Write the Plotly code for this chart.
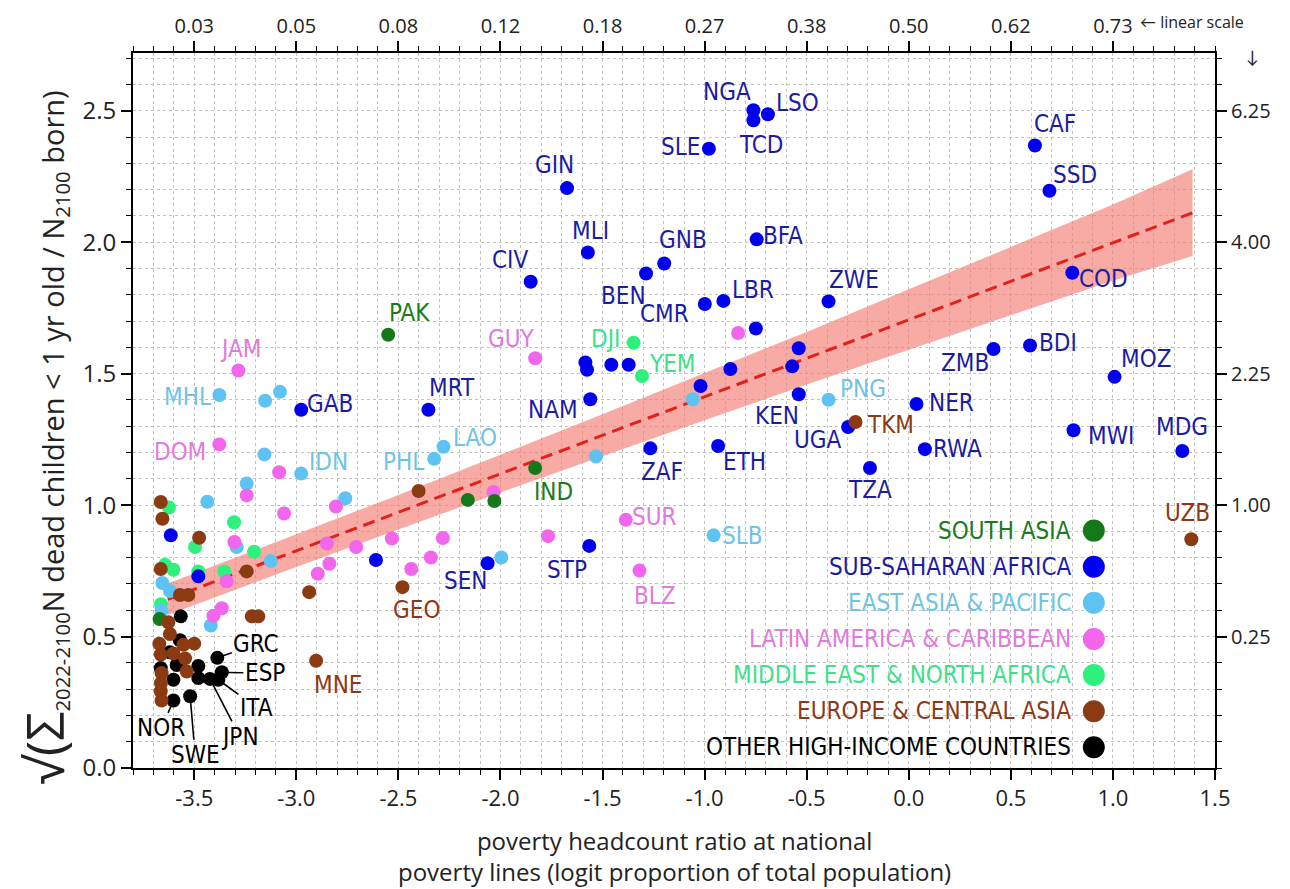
import plotly.graph_objects as go

# ---------------- data ----------------
# x: logit poverty headcount ratio, y: sqrt(sum dead infants / N born)
sa_x = [-2.55, -1.83, -2.16, -2.03, -3.67]
sa_y = [1.648, 1.141, 1.020, 1.016, 0.567]
sa_lab = ["PAK", "IND", "", "", ""]

ssa_x = [-0.761, -0.761, -0.69, -0.979, 0.618, 0.689, -1.674, -1.572, -1.852, -1.287,
         -1.198, -0.745, -0.999, -0.908, -0.393, 0.801, -0.749, 0.594, 0.415, 1.008,
         0.038, 0.807, -0.297, 0.079, 1.34, -0.19, -0.539, -0.539, -0.571, -0.874,
         -1.02, -0.934, -1.266, -1.56, -1.584, -1.576, -1.457, -1.372, -2.353, -2.976,
         -2.063, -1.565, -2.61, -3.615, -3.48]
ssa_y = [2.502, 2.464, 2.487, 2.356, 2.368, 2.196, 2.206, 1.961, 1.850, 1.881,
         1.919, 2.011, 1.765, 1.777, 1.775, 1.884, 1.672, 1.607, 1.594, 1.488,
         1.385, 1.285, 1.297, 1.213, 1.206, 1.141, 1.422, 1.597, 1.528, 1.518,
         1.453, 1.225, 1.216, 1.403, 1.543, 1.515, 1.534, 1.534, 1.363, 1.363,
         0.779, 0.845, 0.791, 0.885, 0.729]
ssa_lab = ["NGA", "TCD", "LSO", "SLE", "CAF", "SSD", "GIN", "MLI", "CIV", "BEN",
           "GNB", "BFA", "CMR", "LBR", "ZWE", "COD", "", "BDI", "ZMB", "MOZ",
           "NER", "MWI", "UGA", "RWA", "MDG", "TZA", "KEN", "", "", "",
           "", "ETH", "ZAF", "NAM", "", "", "", "", "MRT", "GAB",
           "SEN", "STP", "", "", ""]

eap_x = [-3.377, -3.153, -3.08, -3.156, -2.976, -3.243, -3.436, -2.76, -2.279, -2.325,
         -3.292, -3.125, -1.996, -1.532, -0.956, -1.058, -0.393, -3.656, -3.619, -3.66,
         -3.419]
eap_y = [1.419, 1.397, 1.431, 1.193, 1.120, 1.082, 1.013, 1.026, 1.222, 1.176,
         0.841, 0.787, 0.801, 1.185, 0.885, 1.403, 1.401, 0.704, 0.673, 0.598,
         0.542]
eap_lab = ["MHL", "", "", "", "IDN", "", "", "", "LAO", "PHL",
           "", "", "", "", "SLB", "", "PNG", "", "", "",
           ""]

lac_x = [-3.284, -3.377, -3.084, -3.243, -3.06, -2.806, -3.303, -2.85, -2.707, -2.532,
         -2.282, -2.341, -2.437, -2.838, -2.895, -3.341, -3.365, -3.406, -1.83, -2.034,
         -1.386, -1.767, -1.319, -0.836]
lac_y = [1.512, 1.231, 1.125, 1.037, 0.968, 0.995, 0.860, 0.854, 0.841, 0.873,
         0.875, 0.801, 0.757, 0.777, 0.739, 0.710, 0.608, 0.579, 1.559, 1.050,
         0.944, 0.882, 0.751, 1.655]
lac_lab = ["JAM", "DOM", "", "", "", "", "", "", "", "",
           "", "", "", "", "", "", "", "", "GUY", "",
           "SUR", "", "BLZ", ""]

mena_x = [-1.348, -1.307, -3.624, -3.305, -3.496, -3.207, -3.643, -3.602, -3.48, -3.353,
          -3.663]
mena_y = [1.618, 1.491, 0.991, 0.935, 0.841, 0.823, 0.773, 0.754, 0.748, 0.748,
          0.623]
mena_lab = ["DJI", "YEM", "", "", "", "", "", "", "", "",
            ""]

eca_x = [-3.664, -3.656, -3.476, -2.401, -3.664, -3.243, -3.57, -3.529, -2.48, -2.937,
         -3.218, -3.186, -3.627, -3.619, -3.671, -3.553, -3.5, -3.664, -3.602, -3.545,
         -3.537, -3.66, -3.663, -3.664, -3.66, -2.903, -0.261, 1.384]
eca_y = [1.012, 0.948, 0.876, 1.054, 0.757, 0.748, 0.658, 0.658, 0.688, 0.669,
         0.577, 0.577, 0.554, 0.510, 0.473, 0.469, 0.473, 0.432, 0.436, 0.417,
         0.367, 0.361, 0.323, 0.292, 0.257, 0.408, 1.316, 0.870]
eca_lab = ["", "", "", "", "", "", "", "", "GEO", "",
           "", "", "", "", "", "", "", "", "", "",
           "", "", "", "", "", "MNE", "TKM", "UZB"]

hi_x = [-3.566, -3.57, -3.387, -3.664, -3.586, -3.48, -3.365, -3.48, -3.423, -3.382,
        -3.602, -3.602, -3.52, -3.62]
hi_y = [0.577, 0.486, 0.419, 0.380, 0.392, 0.388, 0.364, 0.342, 0.339, 0.336,
        0.336, 0.257, 0.273, 0.440]
hi_lab = ["", "", "GRC", "", "", "", "ESP", "", "JPN", "ITA",
          "", "NOR", "SWE", ""]

# regression fit and its confidence band
fit_x = [-3.63, 1.39]
fit_y = [0.642, 2.112]
band_x = [-3.63, -3.0, -2.5, -2.0, -1.5, -1.0, -0.5, 0.0, 0.5, 1.0, 1.39]
band_lo = [0.582, 0.765, 0.907, 1.048, 1.186, 1.323, 1.459, 1.591, 1.722, 1.854, 1.948]
band_hi = [0.702, 0.889, 1.039, 1.192, 1.346, 1.503, 1.659, 1.821, 1.982, 2.144, 2.278]

# axis ticks
x_ticks = [-3.5, -3.0, -2.5, -2.0, -1.5, -1.0, -0.5, 0.0, 0.5, 1.0, 1.5]
x_ticktext = ["-3.5", "-3.0", "-2.5", "-2.0", "-1.5", "-1.0", "-0.5", "0.0", "0.5", "1.0", "1.5"]
top_ticks = [-3.5, -3.0, -2.5, -2.0, -1.5, -1.0, -0.5, 0.0, 0.5, 1.0]
top_ticktext = ["0.03", "0.05", "0.08", "0.12", "0.18", "0.27", "0.38", "0.50", "0.62", "0.73"]
y_ticks = [0.0, 0.5, 1.0, 1.5, 2.0, 2.5]
y_ticktext = ["0.0", "0.5", "1.0", "1.5", "2.0", "2.5"]
r_ticks = [0.5, 1.0, 1.5, 2.0, 2.5]
r_ticktext = ["0.25", "1.00", "2.25", "4.00", "6.25"]

legend_names = ["SOUTH ASIA", "SUB-SAHARAN AFRICA", "EAST ASIA & PACIFIC",
                "LATIN AMERICA & CARIBBEAN", "MIDDLE EAST & NORTH AFRICA",
                "EUROPE & CENTRAL ASIA", "OTHER HIGH-INCOME COUNTRIES"]

# ---------------- styles ----------------
LABEL_FONT = "Liberation Sans Narrow, Arial Narrow, DejaVu Sans Condensed, sans-serif"
AXIS_FONT = "Open Sans, Lato, sans-serif"
GRID = "#c2c2c2"
LABEL_SIZE = 24

regions = {
    "SA":   dict(x=sa_x, y=sa_y, lab=sa_lab, mk="#15791a", tx="#1b7a1b"),
    "SSA":  dict(x=ssa_x, y=ssa_y, lab=ssa_lab, mk="#0000ee", tx="#1c1ca2"),
    "EAP":  dict(x=eap_x, y=eap_y, lab=eap_lab, mk="#5ec3f3", tx="#6fc3e3"),
    "LAC":  dict(x=lac_x, y=lac_y, lab=lac_lab, mk="#f266ee", tx="#e07ade"),
    "MENA": dict(x=mena_x, y=mena_y, lab=mena_lab, mk="#2ef07c", tx="#3ee08a"),
    "ECA":  dict(x=eca_x, y=eca_y, lab=eca_lab, mk="#8b3a12", tx="#8b3a17"),
    "HI":   dict(x=hi_x, y=hi_y, lab=hi_lab, mk="#000000", tx="#000000"),
}
legend_order = ["SA", "SSA", "EAP", "LAC", "MENA", "ECA", "HI"]
draw_order = ["MENA", "EAP", "LAC", "SA", "SSA", "HI", "ECA"]

# label offsets in pixels (right, up) relative to the dot
label_shift = {
    "NGA": (-26, 18), "TCD": (8, -25), "LSO": (30, 11), "SLE": (-28, 2), "CAF": (20, 22),
    "SSD": (26, 16), "BFA": (26, 3), "GNB": (19, 24), "ZWE": (25, 21), "LBR": (30, 11),
    "CMR": (-40, -10), "COD": (31, -6), "BDI": (28, 3), "ZMB": (-29, -14), "MOZ": (31, 18),
    "NER": (35, 1), "MWI": (37, -6), "MDG": (0, 24), "KEN": (-22, -22), "UGA": (-30, -13),
    "TKM": (35, -3), "PNG": (34, 11), "RWA": (33, 0), "TZA": (0, -22), "ETH": (26, -16),
    "ZAF": (12, -24), "NAM": (-37, -11), "MRT": (24, 22), "LAO": (31, 9), "PHL": (-31, -3),
    "GUY": (-24, 19), "DJI": (-28, 4), "YEM": (30, 12), "IND": (18, -24), "SUR": (29, 3),
    "SLB": (29, -1), "STP": (-22, -24), "BLZ": (15, -25), "SEN": (-22, -18), "PAK": (21, 22),
    "JAM": (2, 22), "MHL": (-32, -2), "GAB": (29, 6), "DOM": (-39, -8), "IDN": (27, 12),
    "GEO": (14, -23), "MNE": (22, -24), "UZB": (-4, 26), "CIV": (-21, 22), "GIN": (-13, 23),
    "MLI": (3, 22), "BEN": (-23, -22),
}
# labels joined to their dot by a leader line: (ax, ay) pixel offsets of the text
leader_shift = {
    "GRC": (39, -14), "ESP": (43, 1), "ITA": (38, 28),
    "JPN": (30, 58), "NOR": (-12, 28), "SWE": (5, 59),
}

fig = go.Figure()

# confidence band
fig.add_trace(go.Scatter(
    x=band_x + band_x[::-1], y=band_hi + band_lo[::-1],
    fill="toself", fillcolor="rgba(242,120,108,0.62)", mode="none",
    hoverinfo="skip"))
# regression line
fig.add_trace(go.Scatter(
    x=fit_x, y=fit_y, mode="lines",
    line=dict(color="#e3201b", width=3, dash="12px,7px"), hoverinfo="skip"))

for key in draw_order:
    r = regions[key]
    fig.add_trace(go.Scatter(
        x=r["x"], y=r["y"], mode="markers",
        marker=dict(color=r["mk"], size=14, line=dict(width=0)),
        text=r["lab"], hoverinfo="x+y+text"))

annotations = []
for key in legend_order:
    r = regions[key]
    for xi, yi, lab in zip(r["x"], r["y"], r["lab"]):
        if not lab:
            continue
        if lab in leader_shift:
            ax, ay = leader_shift[lab]
            annotations.append(dict(
                x=xi, y=yi, xref="x", yref="y", text=lab, showarrow=True,
                arrowhead=0, arrowwidth=1.6, arrowcolor="black", standoff=6,
                ax=ax, ay=ay, font=dict(family=LABEL_FONT, size=LABEL_SIZE, color=r["tx"])))
        else:
            dx, dy = label_shift.get(lab, (0, 20))
            annotations.append(dict(
                x=xi, y=yi, xref="x", yref="y", text=lab, showarrow=False,
                xshift=dx, yshift=dy,
                font=dict(family=LABEL_FONT, size=LABEL_SIZE, color=r["tx"])))

# custom legend (text right aligned, dot on the right)
shapes = []
leg_top = 0.332
leg_step = 0.0505
for i, key in enumerate(legend_order):
    r = regions[key]
    yy = leg_top - i * leg_step
    annotations.append(dict(
        x=0.869, y=yy, xref="paper", yref="paper", xanchor="right", yanchor="middle",
        text=legend_names[i], showarrow=False,
        font=dict(family=LABEL_FONT, size=LABEL_SIZE, color=r["tx"])))
    shapes.append(dict(
        type="circle", xref="paper", yref="paper", xsizemode="pixel", ysizemode="pixel",
        xanchor=0.888, yanchor=yy, x0=-11, x1=11, y0=-11, y1=11,
        fillcolor=r["mk"], line=dict(width=0)))

# axis titles
annotations.append(dict(
    x=0.5, y=-0.123, xref="paper", yref="paper", xanchor="center", yanchor="middle",
    text="poverty headcount ratio at national<br>poverty lines (logit proportion of total population)",
    showarrow=False, font=dict(family=AXIS_FONT, size=24, color="#222222")))
annotations.append(dict(
    x=-0.083, y=0.462, xref="paper", yref="paper", xanchor="center", yanchor="middle",
    textangle=-90, showarrow=False,
    text=("<span style='font-size:52px'>√(Σ</span><sub>2022-2100</sub>"
          "N dead children &lt; 1 yr old / N<sub>2100</sub> born)"),
    font=dict(family=AXIS_FONT, size=29, color="#222222")))
annotations.append(dict(
    x=0.929, y=1.043, xref="paper", yref="paper", xanchor="left", yanchor="middle",
    text="← linear scale", showarrow=False,
    font=dict(family=AXIS_FONT, size=16, color="#222222")))
annotations.append(dict(
    x=1.035, y=0.995, xref="paper", yref="paper", xanchor="center", yanchor="middle",
    text="↓", showarrow=False, font=dict(family=AXIS_FONT, size=17, color="#222222")))

# dummy trace to realise the secondary (top / right) axes
fig.add_trace(go.Scatter(x=[None], y=[None], xaxis="x2", yaxis="y2",
                         mode="markers", hoverinfo="skip"))

tick_common = dict(ticks="outside", ticklen=10, tickwidth=1.6, tickcolor="black",
                   showline=True, linecolor="black", linewidth=2, zeroline=False)
minor_ticks = dict(ticks="outside", ticklen=5, tickwidth=1.3, tickcolor="black", dtick=0.1, tick0=0)

XR = [-3.8, 1.5]
YR = [0.0, 2.72]

fig.update_layout(
    width=1290, height=889,
    margin=dict(l=133, r=75, t=43, b=121),
    paper_bgcolor="white", plot_bgcolor="white",
    showlegend=False,
    xaxis=dict(range=XR, tickmode="array", tickvals=x_ticks, ticktext=x_ticktext,
               showgrid=True, gridcolor=GRID, griddash="dot", gridwidth=1,
               minor=dict(**minor_ticks, showgrid=True, gridcolor=GRID, griddash="dot", gridwidth=1),
               tickfont=dict(family=AXIS_FONT, size=22, color="#222222"),
               **tick_common),
    xaxis2=dict(range=XR, overlaying="x", side="top", anchor="y",
                tickmode="array", tickvals=top_ticks, ticktext=top_ticktext,
                showgrid=False, minor=dict(**minor_ticks, showgrid=False),
                tickfont=dict(family=AXIS_FONT, size=20, color="#222222"),
                **tick_common),
    yaxis=dict(range=YR, tickmode="array", tickvals=y_ticks, ticktext=y_ticktext,
               showgrid=True, gridcolor=GRID, griddash="dot", gridwidth=1,
               minor=dict(**minor_ticks, showgrid=True, gridcolor=GRID, griddash="dot", gridwidth=1),
               tickfont=dict(family=AXIS_FONT, size=24, color="#222222"),
               **tick_common),
    yaxis2=dict(range=YR, overlaying="y", side="right", anchor="x",
                tickmode="array", tickvals=r_ticks, ticktext=r_ticktext,
                showgrid=False, minor=dict(**minor_ticks, showgrid=False),
                tickfont=dict(family=AXIS_FONT, size=20, color="#222222"),
                **tick_common),
    annotations=annotations,
    shapes=shapes,
)

fig.write_html("out.html")
